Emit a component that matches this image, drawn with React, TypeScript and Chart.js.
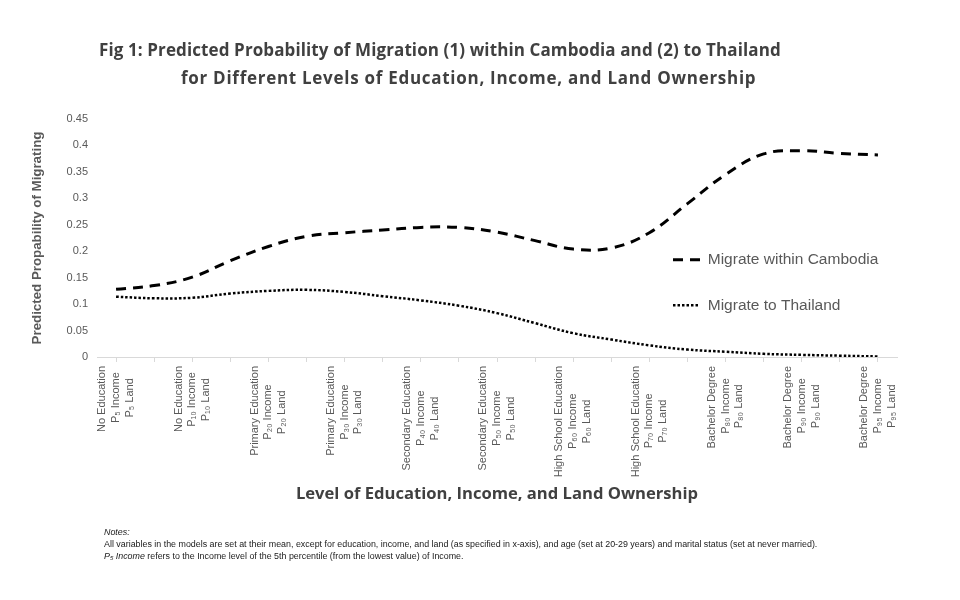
import { useEffect, useRef } from "react";
import Chart from "chart.js/auto";

// 21 categories: every second one carries a label (education / income / land)
const educationLevels = [
  "No Education",
  "No Education",
  "Primary Education",
  "Primary Education",
  "Secondary Education",
  "Secondary Education",
  "High School Education",
  "High School Education",
  "Bachelor Degree",
  "Bachelor Degree",
  "Bachelor Degree",
];
const percentiles = ["₅", "₁₀", "₂₀", "₃₀", "₄₀", "₅₀", "₆₀", "₇₀", "₈₀", "₉₀", "₉₅"];

const withinCambodia = [
  0.128, 0.135, 0.151, 0.182, 0.209, 0.228, 0.235, 0.24, 0.245, 0.245, 0.236,
  0.22, 0.204, 0.206, 0.235, 0.29, 0.345, 0.384, 0.39, 0.385, 0.382,
];
const toThailand = [
  0.114, 0.111, 0.112, 0.12, 0.125, 0.127, 0.123, 0.115, 0.107, 0.097, 0.083,
  0.064, 0.045, 0.033, 0.022, 0.014, 0.01, 0.006, 0.004, 0.0025, 0.001,
];

const yMin = 0;
const yMax = 0.45;
const yStep = 0.05;

const SANS = "'Liberation Sans', Arial, sans-serif";
const TICK_SIZE = 11;
const TICK_LINE = 1.25;

// pad shorter lines with trailing spaces so the rotated (right-aligned) lines look centred
function centreLines(lines: string[]): string[] {
  const ctx = document.createElement("canvas").getContext("2d");
  if (!ctx) return lines;
  ctx.font = `${TICK_SIZE}px ${SANS}`;
  const widths = lines.map((l) => ctx.measureText(l).width);
  const max = Math.max(...widths);
  const space = ctx.measureText(" ").width;
  return lines.map((l, i) => l + " ".repeat(Math.round((max - widths[i]) / 2 / space)));
}

function buildCategories(): (string | string[])[] {
  const out: (string | string[])[] = [];
  educationLevels.forEach((edu, i) => {
    if (i > 0) out.push("");
    out.push(centreLines([edu, `P${percentiles[i]} Income`, `P${percentiles[i]} Land`]));
  });
  return out;
}

// move the legend inside the plot, to the right
const legendPlacement = {
  id: "legendPlacement",
  afterLayout(chart: any) {
    const legend = chart.legend;
    if (!legend) return;
    const area = chart.chartArea;
    const left = area.left + area.width * 0.6825;
    const top = area.top + area.height * 0.433;
    legend.left = left;
    legend.right = left + legend.width;
    legend.top = top;
    legend.bottom = area.bottom + 100;
    legend.height = legend.bottom - top;
  },
};

function MigrationChart() {
  const canvasRef = useRef<HTMLCanvasElement>(null);

  useEffect(() => {
    if (!canvasRef.current) return;

    const chart = new Chart(canvasRef.current, {
      type: "line",
      data: {
        labels: buildCategories(),
        datasets: [
          {
            label: "Migrate within Cambodia",
            data: withinCambodia,
            borderColor: "#000000",
            backgroundColor: "#000000",
            borderWidth: 3,
            borderDash: [10, 7],
            pointRadius: 0,
            tension: 0.4,
            fill: false,
          },
          {
            label: "Migrate to Thailand",
            data: toThailand,
            borderColor: "#000000",
            backgroundColor: "#000000",
            borderWidth: 2.5,
            borderDash: [2.5, 2],
            pointRadius: 0,
            tension: 0.4,
            fill: false,
          },
        ],
      },
      plugins: [legendPlacement],
      options: {
        animation: false,
        responsive: true,
        maintainAspectRatio: false,
        layout: { padding: { top: 119, right: 63, bottom: 90, left: 0 } },
        scales: {
          x: {
            offset: true,
            grid: {
              display: true,
              drawOnChartArea: false,
              drawTicks: true,
              tickLength: 5,
              color: "#d9d9d9",
            },
            border: { display: true, color: "#d9d9d9", width: 1 },
            ticks: {
              autoSkip: false,
              minRotation: 90,
              maxRotation: 90,
              padding: 4,
              labelOffset: -TICK_SIZE * TICK_LINE,
              color: "#595959",
              font: { family: SANS, size: TICK_SIZE, lineHeight: TICK_LINE },
            },
            title: {
              display: true,
              text: "Level of Education, Income, and Land Ownership",
              color: "#404040",
              font: { family: "'Open Sans', sans-serif", size: 16.6, weight: "bold" },
              padding: { top: 0, bottom: 6 },
            },
            afterFit: (scale: any) => {
              scale.height = 153;
            },
          },
          y: {
            min: yMin,
            max: yMax,
            grid: { display: false, drawTicks: false },
            border: { display: false },
            ticks: {
              stepSize: yStep,
              padding: 9,
              color: "#595959",
              font: { family: SANS, size: 11 },
              callback: (v: any) => String(Number(Number(v).toFixed(2))),
            },
            title: {
              display: true,
              text: "Predicted Propability of Migrating",
              color: "#595959",
              font: { family: SANS, size: 13.3, weight: "bold" },
              padding: { top: 29, bottom: 0 },
            },
            afterFit: (scale: any) => {
              scale.width = 97;
            },
          },
        },
        plugins: {
          title: { display: false },
          tooltip: { enabled: false },
          legend: {
            position: "chartArea",
            align: "start",
            labels: {
              usePointStyle: true,
              pointStyle: "line",
              pointStyleWidth: 27,
              padding: 30,
              color: "#595959",
              font: { family: SANS, size: 15.5 },
              generateLabels: (c: any) => {
                const items = Chart.defaults.plugins.legend.labels.generateLabels(c);
                items.forEach((item: any) => {
                  const ds: any = c.data.datasets[item.datasetIndex];
                  item.lineDash = ds.borderDash;
                  item.lineWidth = ds.borderWidth;
                  item.strokeStyle = ds.borderColor;
                  item.lineCap = "butt";
                });
                return items;
              },
            },
          },
        },
      },
    });

    return () => {
      chart.destroy();
    };
  }, []);

  return (
    <div style={{ position: "absolute", left: 0, top: 0, width: 960, height: 600 }}>
      <canvas ref={canvasRef} />
    </div>
  );
}

export default function App() {
  const titleStyle: React.CSSProperties = {
    position: "absolute",
    whiteSpace: "nowrap",
    fontFamily: "'Open Sans', sans-serif",
    fontWeight: 700,
    fontSize: 17,
    color: "#404040",
    lineHeight: "20px",
  };
  const noteStyle: React.CSSProperties = {
    position: "absolute",
    left: 104,
    whiteSpace: "nowrap",
    fontFamily: SANS,
    fontSize: 8.9,
    lineHeight: "11px",
    color: "#1a1a1a",
  };
  return (
    <div style={{ position: "absolute", left: 0, top: 0, width: 960, height: 600, background: "#ffffff" }}>
      <MigrationChart />
      <div style={{ ...titleStyle, left: 99, top: 40, letterSpacing: "0.11px" }}>
        Fig 1: Predicted Probability of Migration (1) within Cambodia and (2) to Thailand
      </div>
      <div style={{ ...titleStyle, left: 181, top: 68, letterSpacing: "0.72px" }}>
        for Different Levels of Education, Income, and Land Ownership
      </div>
      <div style={{ ...noteStyle, top: 527, fontStyle: "italic" }}>Notes:</div>
      <div style={{ ...noteStyle, top: 539 }}>
        All variables in the models are set at their mean, except for education, income, and land (as
        specified in x-axis), and age (set at 20-29 years) and marital status (set at never married).
      </div>
      <div style={{ ...noteStyle, top: 551 }}>
        <i>
          P<sub style={{ fontSize: 6, verticalAlign: "-1px" }}>5</sub> Income
        </i>{" "}
        refers to the Income level of the 5th percentile (from the lowest value) of Income.
      </div>
    </div>
  );
}
